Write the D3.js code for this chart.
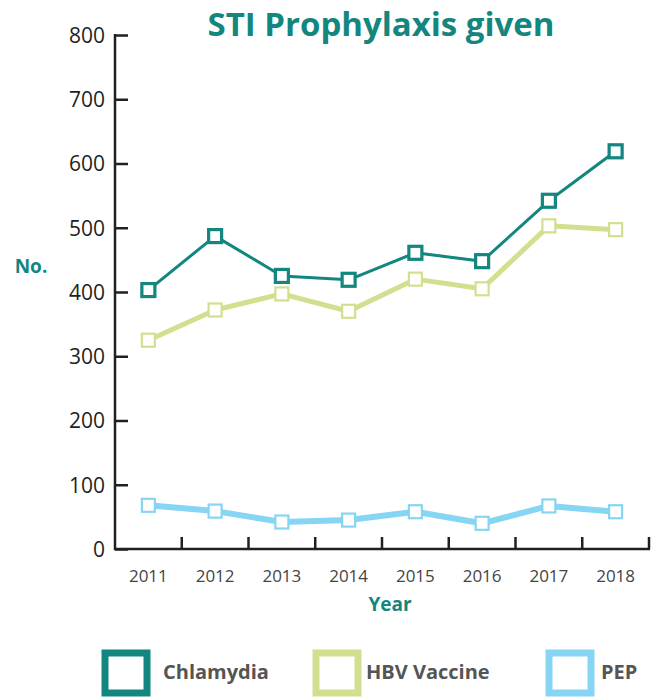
<!DOCTYPE html>
<html><head><meta charset="utf-8">
<script src="https://cdn.jsdelivr.net/npm/d3@7"></script>
<style>body{margin:0;background:#fff}svg{display:block}</style>
</head><body><div id="chart"></div>
<script>
const years = ["2011","2012","2013","2014","2015","2016","2017","2018"];
const chlamydia = [403, 487, 425, 419, 461, 448, 542, 619];
const hbv = [325, 372, 397, 370, 420, 405, 503, 497];
const pep = [68, 59, 42, 45, 58, 40, 67, 58];
const yTicks = [0,100,200,300,400,500,600,700,800];
const seriesNames = ["Chlamydia","HBV Vaccine","PEP"];
const seriesColors = ["#138680","#d3df8f","#86d5f2"];

const W=658,H=700;
const svg=d3.select("#chart").append("svg").attr("width",W).attr("height",H);
const x=d3.scaleBand().domain(years).range([115,649]);
const y=d3.scaleLinear().domain([0,800]).range([549,35]);
const teal="#138680";
const boldFont="'Open Sans', sans-serif";

svg.append("text").attr("x",381).attr("y",36).attr("text-anchor","middle")
  .attr("font-family",boldFont).attr("font-weight",700)
  .attr("font-size",33).attr("fill",teal)
  .text("STI Prophylaxis given");

// y axis
const ya=svg.append("g").attr("transform","translate(115,0)")
  .call(d3.axisRight(y).tickValues(yTicks).tickSize(13).tickFormat(d3.format("d")));
ya.select(".domain").attr("stroke","#231f20").attr("stroke-width",2.5).attr("d","M0,34V550");
ya.selectAll(".tick line").attr("stroke","#231f20").attr("stroke-width",2.5);
ya.selectAll(".tick text").attr("x",-10).attr("text-anchor","end")
  .attr("font-family","'Open Sans', sans-serif").attr("font-size",21).attr("fill","#231f20").attr("dy","0.35em");

// x axis
const xa=svg.append("g").attr("transform","translate(0,549)");
xa.append("line").attr("x1",114).attr("x2",650).attr("stroke","#231f20").attr("stroke-width",2.5);
const bounds=years.map(d=>x(d)+x.bandwidth());
xa.selectAll("line.t").data(bounds).join("line").attr("class","t")
  .attr("x1",d=>d).attr("x2",d=>d).attr("y1",0).attr("y2",-12)
  .attr("stroke","#231f20").attr("stroke-width",2.5);
xa.selectAll("text").data(years).join("text")
  .attr("x",d=>x(d)+x.bandwidth()/2).attr("y",33).attr("text-anchor","middle")
  .attr("font-family","'Open Sans', sans-serif").attr("font-size",17).attr("fill","#444")
  .text(d=>d);

svg.append("text").attr("x",390).attr("y",611).attr("text-anchor","middle")
  .attr("font-family",boldFont).attr("font-weight",700)
  .attr("font-size",19).attr("fill",teal).text("Year");
svg.append("text").attr("x",31).attr("y",273).attr("text-anchor","middle")
  .attr("font-family",boldFont).attr("font-weight",700)
  .attr("font-size",19).attr("fill",teal).text("No.");

const data=[chlamydia,hbv,pep];
const lw=[3,5,6];
const ms=[[13,3.2],[13,2.2],[13,2.2]];
const cx=d=>x(d)+x.bandwidth()/2;
const order=[2,1,0];
order.forEach(i=>{
  const vals=data[i];
  const line=d3.line().x((v,j)=>cx(years[j])).y(v=>y(v));
  svg.append("path").attr("d",line(vals)).attr("fill","none")
    .attr("stroke",seriesColors[i]).attr("stroke-width",lw[i]).attr("stroke-linejoin","round");
  svg.selectAll(null).data(vals).join("rect")
    .attr("x",(v,j)=>cx(years[j])-ms[i][0]/2).attr("y",v=>y(v)-ms[i][0]/2)
    .attr("width",ms[i][0]).attr("height",ms[i][0])
    .attr("fill","#fff").attr("stroke",seriesColors[i]).attr("stroke-width",ms[i][1]);
});

// legend
const lx=[105,316,549], tx=[163,366,601];
seriesNames.forEach((n,i)=>{
  svg.append("rect").attr("x",lx[i]).attr("y",653).attr("width",42).attr("height",40)
    .attr("fill","#fff").attr("stroke",seriesColors[i]).attr("stroke-width",7);
  svg.append("text").attr("x",tx[i]).attr("y",679)
    .attr("font-family",boldFont).attr("font-weight",700)
    .attr("font-size",20).attr("fill","#555").text(n);
});
</script></body></html>
